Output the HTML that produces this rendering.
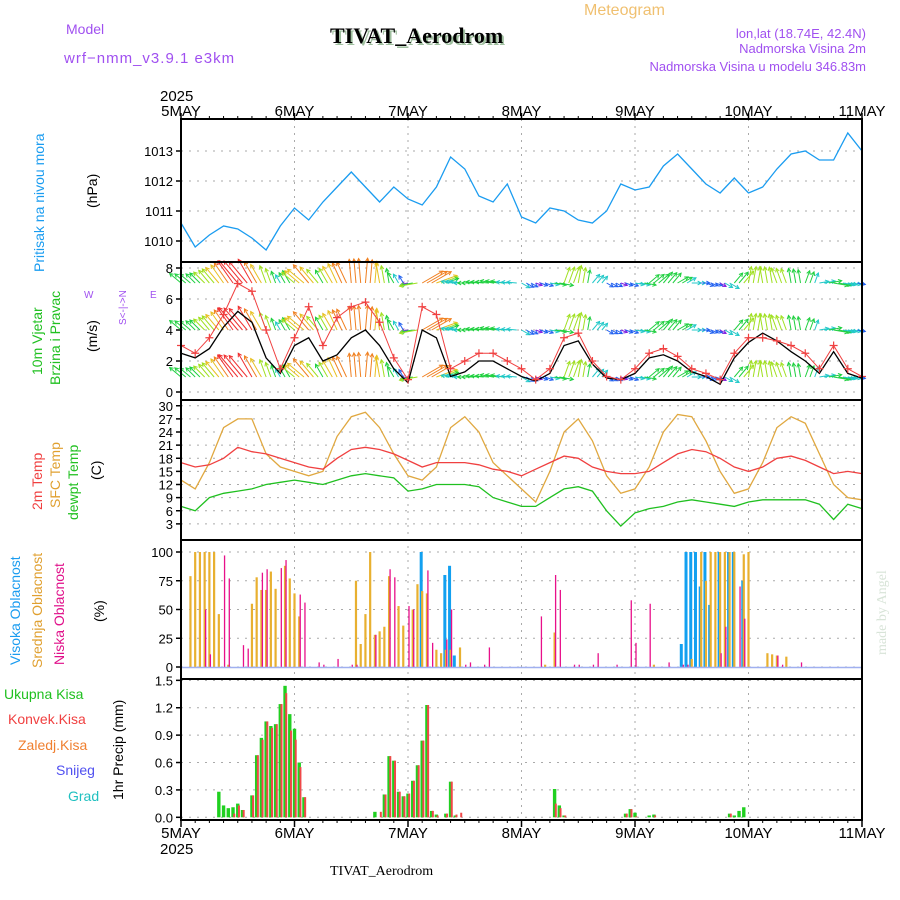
<!DOCTYPE html>
<html><head><meta charset="utf-8">
<style>
body{margin:0;background:#fff;width:900px;height:900px;overflow:hidden}
svg{display:block}
text{font-family:"Liberation Sans",sans-serif}
</style></head>
<body>
<svg id="c" width="900" height="900" viewBox="0 0 900 900" xmlns="http://www.w3.org/2000/svg">
<text x="584" y="15" fill="#f0c070" font-size="16">Meteogram</text>
<text x="66" y="34" fill="#a050f0" font-size="14">Model</text>
<text x="64" y="63" fill="#a050f0" font-size="15" letter-spacing="1">wrf−nmm_v3.9.1  e3km</text>
<text x="332" y="45" fill="#a0c0a0" font-size="22" font-weight="bold" style="font-family:'Liberation Serif',serif">TIVAT_Aerodrom</text>
<text x="330" y="43" fill="#000" font-size="22" font-weight="bold" style="font-family:'Liberation Serif',serif">TIVAT_Aerodrom</text>
<text x="866" y="38" fill="#a050f0" font-size="13" text-anchor="end">lon,lat (18.74E, 42.4N)</text>
<text x="866" y="53" fill="#a050f0" font-size="13" text-anchor="end">Nadmorska Visina 2m</text>
<text x="866" y="71" fill="#a050f0" font-size="13" text-anchor="end">Nadmorska Visina u modelu 346.83m</text>
<text x="160" y="101" font-size="15">2025</text>
<text x="160" y="854" font-size="15">2025</text>
<text x="330" y="875" font-size="14" style="font-family:'Liberation Serif',serif">TIVAT_Aerodrom</text>
<text transform="translate(886,655) rotate(-90)" fill="#d8e4d8" font-size="14" style="font-family:'Liberation Serif',serif">made by Angel</text>
<g id="labels">
<text transform="translate(44,272) rotate(-90)" fill="#1a9cf0" font-size="14">Pritisak na nivou mora</text>
<text transform="translate(97,208) rotate(-90)" font-size="14">(hPa)</text>
<text transform="translate(42,375) rotate(-90)" fill="#20c020" font-size="14">10m Vjetar</text>
<text transform="translate(60,385) rotate(-90)" fill="#20c020" font-size="14">Brzina i Pravac</text>
<text transform="translate(97,352) rotate(-90)" font-size="14">(m/s)</text>
<text transform="translate(126,325) rotate(-90)" fill="#a050f0" font-size="10">S&lt;-|-&gt;N</text>
<text x="84" y="298" fill="#a050f0" font-size="10">W</text>
<text x="150" y="298" fill="#a050f0" font-size="10">E</text>
<text transform="translate(42,510) rotate(-90)" fill="#f04040" font-size="14">2m Temp</text>
<text transform="translate(60,508) rotate(-90)" fill="#e0a030" font-size="14">SFC Temp</text>
<text transform="translate(78,520) rotate(-90)" fill="#20c020" font-size="14">dewpt Temp</text>
<text transform="translate(101,480) rotate(-90)" font-size="14">(C)</text>
<text transform="translate(20,665) rotate(-90)" fill="#1a9cf0" font-size="14">Visoka Oblacnost</text>
<text transform="translate(42,668) rotate(-90)" fill="#e0a030" font-size="14">Srednja Oblacnost</text>
<text transform="translate(64,665) rotate(-90)" fill="#e0108a" font-size="14">Niska Oblacnost</text>
<text transform="translate(104,622) rotate(-90)" font-size="14">(%)</text>
<text x="4" y="699" fill="#20c020" font-size="14">Ukupna  Kisa</text>
<text x="8" y="724" fill="#f04040" font-size="14">Konvek.Kisa</text>
<text x="18" y="750" fill="#f08030" font-size="14">Zaledj.Kisa</text>
<text x="56" y="775" fill="#5050f0" font-size="14">Snijeg</text>
<text x="68" y="801" fill="#20c0c0" font-size="14">Grad</text>
<text transform="translate(123,800) rotate(-90)" font-size="14">1hr Precip (mm)</text>
</g>
</svg>
<script>
const dayLabels=["5MAY","6MAY","7MAY","8MAY","9MAY","10MAY","11MAY"];
const pressure=[1010.6,1009.8,1010.2,1010.5,1010.4,1010.1,1009.7,1010.5,1011.1,1010.7,1011.3,1011.8,1012.3,1011.8,1011.3,1011.8,1011.4,1011.2,1011.8,1012.8,1012.4,1011.5,1011.3,1011.9,1010.8,1010.6,1011.1,1011.0,1010.7,1010.6,1011.0,1011.9,1011.7,1011.8,1012.5,1012.9,1012.4,1011.9,1011.6,1012.1,1011.6,1011.8,1012.4,1012.9,1013.0,1012.7,1012.7,1013.6,1013.0];
const windSpeed=[3,2.5,3.5,5,7,6.5,4,1.5,3.5,5.5,3,4.8,5.5,5.8,4.5,2.2,0.8,5.5,5,1.5,2,2.5,2.5,2,1.5,0.8,1.5,3.5,3.8,2,1,0.8,1.5,2.5,2.8,2.3,1.5,1.2,0.8,2.5,3.5,3.5,3.3,3,2.5,1.5,3,1.5,1];
const windMean=[2.5,2.2,2.8,4.2,5.2,4.5,2.2,1.2,3,3.5,2,2.4,3.5,4,3,1.5,0.6,4,3.5,1,1.3,2,2,1.5,1,0.7,1.2,3,3.3,1.8,0.9,0.8,1.2,2.2,2.4,2,1.3,1,0.5,2.2,3.2,3.8,3.3,2.6,2,1.2,2.6,1.2,0.9];
const windDir=[130,135,140,145,140,150,160,150,130,140,150,155,175,185,170,150,80,240,250,100,90,95,100,95,300,290,280,200,190,220,300,290,280,230,220,240,270,290,300,220,190,170,160,170,200,260,280,280,270];
const t2m=[17,16,16.5,18,20.5,19.5,19,18,17,16,15.5,18,20,20.5,20,19,17.5,16,17,17,17,16.5,15.5,15,14,15.5,17,18.5,18,16,15,14.5,14.5,15,17,19,20,19.5,18,16,15,16,18,18.5,17.5,16,14.5,15,14.5];
const tSfc=[13,11,17,25,27,27,19,16,15,14,15,23,27.5,28.5,25,19,14,13,16,25,27.5,24,17,14,11,8,15,24,27,22,14,10,11,16,24,28,27.5,22,15,10,11,17,25,27.5,26,19,12,9,8.5];
const tDew=[7,6,9,10,10.5,11,12,12.5,13,12.5,12,13,14,14.5,14,13.5,10.5,11,12,12,12,11.5,9,8,7,7,9,11,11.5,10.5,6,2.5,5.5,6.5,7,8,8.5,8,7.5,7,8,8.5,8.5,8.5,8.5,7.5,4,7.5,6.5];
const midHours=[2,3,4,5,6,7,8,10,15,16,17,18,19,20,22,23,24,25,37,38,39,40,41,42,43,44,46,47,49,50,51,52,54,55,56,57,59,77,79,100,108,110,111,112,113,114,115,116,117,119,120,124,125,126,128];
const midVals=[79,100,100,100,100,100,46,2,55,78,67,67,83,68,88,77,64,44,75,20,46,100,28,31,35,79,53,36,50,72,66,64,15,12,15,15,17,2,30,2,7,100,75,100,100,100,100,100,100,98,100,12,11,10,9];
const lowHours=[5,6,9,10,13,14,17,18,21,22,25,26,29,30,33,36,37,41,44,45,48,49,52,53,56,57,60,61,64,65,76,79,80,83,84,87,88,92,95,96,99,103,106,107,114,115,118,119,126,127,131];
const lowVals=[50,11,97,77,19,16,82,85,86,93,63,56,4,2,7,2,2,28,85,78,53,50,84,21,24,50,2,4,2,17,44,80,67,2,2,2,12,2,58,21,55,4,2,2,12,35,70,42,10,2,4];
const highHours=[51,56,57,58,106,107,108,109,110,111,112,114,116,117,119];
const highVals=[100,80,88,10,20,100,100,100,70,100,54,100,100,100,75];
const rainHours=[8,9,10,11,12,13,15,16,17,18,19,20,21,22,23,24,25,26,41,42,43,44,45,46,47,48,49,50,51,52,53,54,56,57,58,59,79,80,81,94,95,96,99,100,116,117,118,119];
const rainTotal=[0.28,0.13,0.1,0.11,0.15,0.08,0.24,0.68,0.87,1.05,1.0,1.02,1.24,1.44,1.13,0.97,0.6,0.22,0.06,0,0.25,0.67,0.62,0.28,0.23,0.26,0.4,0.57,0.84,1.23,0.07,0.03,0.04,0.39,0.02,0,0.31,0.13,0.02,0.04,0.09,0.05,0.02,0.03,0.04,0.02,0.07,0.11];
const rainConv=[0,0,0,0.04,0.13,0.08,0.24,0.68,0.85,1.05,0.98,1.02,1.24,1.36,0.95,0.85,0.55,0.22,0,0.06,0.25,0.67,0.62,0.28,0.23,0.26,0.4,0.57,0.84,1.23,0.07,0.02,0.04,0.39,0.03,0.05,0.15,0.1,0.02,0.04,0.09,0.01,0,0.02,0.04,0,0,0];
const pTicks=[1010,1011,1012,1013], wTicks=[0,2,4,6,8], tTicks=[3,6,9,12,15,18,21,24,27,30], cTicks=[0,25,50,75,100], rTicks=[0,0.3,0.6,0.9,1.2,1.5];

const NS="http://www.w3.org/2000/svg", svg=document.getElementById('c');
const X0=181,X1=862;
const xh=h=>X0+(X1-X0)*h/144;
const x3=i=>xh(i*3);
const yP=v=>241-(v-1010)*30, yW=v=>392-v*15.5, yT=v=>537-v*4.375, yC=v=>667-v*1.15, yR=v=>817.3-v*91.3;
function mk(tag,at,parent){const e=document.createElementNS(NS,tag);for(const k in at)e.setAttribute(k,at[k]);(parent||svg).appendChild(e);return e;}
const panels=[[119,262,"pressure"],[262,400,"wind"],[400,540,"temperature"],[540,679,"cloud"],[679,820,"precip"]];
const gGrid=mk('g',{});


for(let d=1;d<6;d++){const l=mk('line',{x1:xh(d*24),x2:xh(d*24),y1:119,y2:820,stroke:'#aaa','stroke-dasharray':'2,5'},gGrid);

}
function hgrid(ticks,fy,fmt,name){ticks.forEach(t=>{const y=fy(t);
const l=mk('line',{x1:X0,x2:X1,y1:y,y2:y,stroke:'#aaa','stroke-dasharray':'2,6'},gGrid);


mk('line',{x1:X0-5,x2:X0,y1:y,y2:y,stroke:'#000','stroke-width':1.5});
const tx=mk('text',{x:X0-8,y:y+5,'font-size':13,'text-anchor':'end'});tx.textContent=fmt(t);

});}
hgrid(pTicks,yP,t=>t,'pressure');hgrid(wTicks,yW,t=>t,'wind');hgrid(tTicks,yT,t=>t,'temp');hgrid(cTicks,yC,t=>t,'cloud');hgrid(rTicks,yR,t=>t.toFixed(1),'precip');
dayLabels.forEach((s,d)=>{const x=xh(d*24);
[[119,113],[820,827]].forEach(([a,b])=>mk('line',{x1:x,x2:x,y1:a,y2:b,stroke:'#000','stroke-width':1.5}));
[116,838].forEach(y=>{const t=mk('text',{x:x,y:y,'font-size':15,'text-anchor':'middle'});t.textContent=s;

});});
for(let h=3;h<144;h+=3){if(h%24)[[119,116],[820,823]].forEach(([a,b])=>mk('line',{x1:xh(h),x2:xh(h),y1:a,y2:b,stroke:'#000'}));}
function bars(hours,vals,color,w,off,fy,name){hours.forEach((h,i)=>{const y=fy(vals[i]),y0=fy(0);
const r=mk('rect',{x:xh(h)-w/2+off,y:y,width:w,height:Math.max(0,y0-y),fill:color});

});}
bars(highHours,highVals,'#12a0f0',3,-1,yC,'high-cloud-bar');
bars(midHours,midVals,'#e8b030',2.2,0,yC,'mid-cloud-bar');
bars(lowHours,lowVals,'#e8108a',1.3,1,yC,'low-cloud-bar');
mk('line',{x1:X0,x2:X1,y1:yC(0)+0.5,y2:yC(0)+0.5,stroke:'#a0b0f0','stroke-width':1.5});
bars(rainHours,rainTotal,'#20d020',3.4,0,yR,'total-rain-bar');
bars(rainHours,rainConv,'#f04848',2,1.2,yR,'conv-rain-bar');
function line(arr,fy,color,name,w){const p=mk('polyline',{points:arr.map((v,i)=>x3(i).toFixed(1)+','+fy(v).toFixed(1)).join(' '),fill:'none',stroke:color,'stroke-width':w||1.3});

}
line(pressure,yP,'#1a9cf0','pressure-line');
line(tSfc,yT,'#e0a840','sfc-temp-line');
line(t2m,yT,'#f04040','t2m-line');
line(tDew,yT,'#20c020','dewpt-line');
const spdCol=v=>v>6?'#f03030':v>5?'#f08020':v>4?'#e8c020':v>3?'#a0e020':v>2?'#20d040':v>1.3?'#20c8c8':v>0.8?'#2060f0':'#8020e0';
const gW=mk('g',{});


[283,330,377].forEach(ry=>{for(let i=0;i<windSpeed.length-1;i++){for(let k=0;k<3;k++){const h=i*3+k;const s=windSpeed[i]+(windSpeed[i+1]-windSpeed[i])*k/3;
const a=(windDir[i]+180)*Math.PI/180;const L=4+s*3.6;const x=xh(h),dx=Math.sin(a)*L,dy=-Math.cos(a)*L;
const c=spdCol(s);const x2=x+dx,y2=ry+dy;const ang=Math.atan2(dy,dx);
mk('line',{x1:x,y1:ry,x2:x2,y2:y2,stroke:c,'stroke-width':1},gW);
mk('polyline',{points:`${x2-4*Math.cos(ang-0.5)},${y2-4*Math.sin(ang-0.5)} ${x2},${y2} ${x2-4*Math.cos(ang+0.5)},${y2-4*Math.sin(ang+0.5)}`,fill:'none',stroke:c,'stroke-width':1},gW);}}});
line(windMean,yW,'#000','wind-mean-line',1.3);
line(windSpeed,yW,'#f04040','wind-speed-line',1);
windSpeed.forEach((v,i)=>{const x=x3(i),y=yW(v);const g=mk('path',{d:`M${x-4},${y}H${x+4}M${x},${y-4}V${y+4}`,stroke:'#f04040','stroke-width':1.2});

});
panels.forEach(([a,b,n])=>{const r=mk('rect',{x:X0,y:a,width:X1-X0,height:b-a,fill:'none',stroke:'#000','stroke-width':2});

});
</script>
</body></html>
